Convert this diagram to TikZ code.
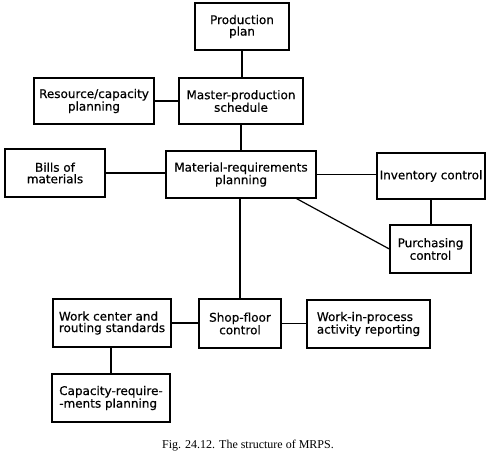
\documentclass[tikz,border=0pt]{standalone}
\usepackage{fontspec}
\setmainfont{Liberation Serif}
\newfontfamily\boxfont[BoldFont={DejaVu Sans}, BoldFeatures={FakeBold=0.5}]{DejaVu Sans}
\usetikzlibrary{calc}
\tikzset{
	blk/.style={draw, line width=1.3pt, inner sep=0pt, align=center,
		font=\boxfont\bfseries\fontsize{12}{11.5}\selectfont},
	wire/.style={line width=1.2pt}
}

\begin{document}
\begin{tikzpicture}[x=1pt, y=-1pt]
			%%%%% START %%%%%
			\useasboundingbox (0, 0) rectangle (489, 456);
			
			\node[blk, minimum width=94, minimum height=47] (plan) at (242, 26.5) {Production\\plan};
			\node[blk, minimum width=124, minimum height=46] (mps) at (241, 101) {Master-production\\schedule};
			\node[blk, minimum width=120, minimum height=46] (res) at (94, 101) {Resource/capacity\\planning};
			
			\node[blk, minimum width=100, minimum height=48] (bom) at (55, 173) {Bills of\\materials};
			\node[blk, minimum width=150, minimum height=47] (mrp) at (241, 174.5) {Material-requirements\\planning};
			\node[blk, minimum width=108, minimum height=46] (inv) at (431, 176) {Inventory control};
			\node[blk, minimum width=81, minimum height=48] (pur) at (430.5, 249) {Purchasing\\control};
			
			\node[blk, align=left, minimum width=118, minimum height=48] (wcr) at (112, 323) {Work center and\\routing standards};
			\node[blk, minimum width=82, minimum height=49] (sfc) at (240, 323.5) {Shop-floor\\control};
			\node[blk, align=left, minimum width=123, minimum height=48] (wip) at (368.5, 324) {Work-in-process\\activity reporting};
			\node[blk, align=left, minimum width=118, minimum height=48] (crp) at (111, 398) {Capacity-require-\\-ments planning};
			
			\node[font=\fontsize{12}{12}\selectfont] (cap) at (248, 446) {Fig. 24.12. The structure of MRPS.};
			
			\coordinate (mrpout) at ($(mrp.south east)+(-20, 0)$);
			
			\draw[wire] (plan.south) -- (plan.south |- mps.north);
			\draw[wire] (res) -- (mps);
			\draw[wire] (mps.south) -- (mps.south |- mrp.north);
			\draw[wire] (bom.east) -- (bom.east -| mrp.west);
			\draw[wire] (mrp.east) -- (mrp.east -| inv.west);
			\draw[wire] (inv.south) -- (inv.south |- pur.north);
			\draw[wire] (mrpout) -- (pur.west);
			\draw[wire] (sfc.north |- mrp.south) -- (sfc.north);
			\draw[wire] (wcr.east) -- (wcr.east -| sfc.west);
			\draw[wire] (sfc.east) -- (sfc.east -| wip.west);
			\draw[wire] (crp.north) -- (crp.north |- wcr.south);
			
			%%%%% END %%%%%
\end{tikzpicture}
\end{document}
